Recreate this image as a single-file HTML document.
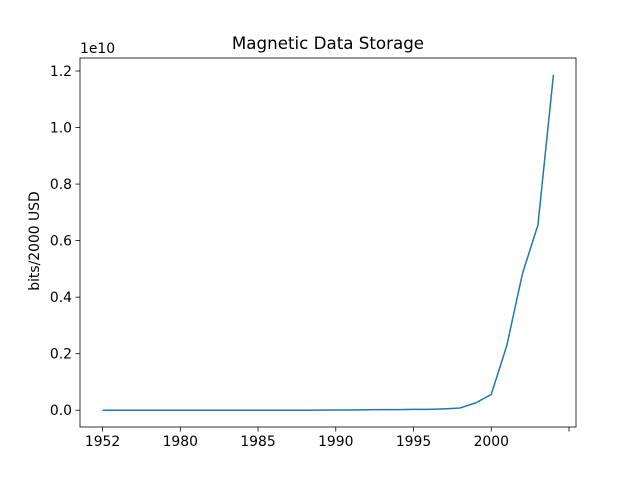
<!DOCTYPE html>
<html><head><meta charset="utf-8"><style>body{margin:0;background:#fff}svg{font-family:"DejaVu Sans","Liberation Sans",sans-serif}</style></head>
<body>
<svg id="c" width="640" height="480"></svg>
<script>
const categories=[0,1,2,3,4,5,6,7,8,9,10,11,12,13,14,15,16,17,18,19,20,21,22,23,24,25,26,27,28,29];
const values=[0,0,0,0,0,0,0,0,0,0,0,0,0,0,0.0005,0.001,0.001,0.0015,0.002,0.002,0.003,0.003,0.005,0.008,0.026,0.056,0.229,0.482,0.655,1.187];
const xTickPos=[0,5,10,15,20,25,30];
const xTickLabels=["1952","1980","1985","1990","1995","2000",""];
const yTicks=[0,0.2,0.4,0.6,0.8,1.0,1.2];
const yTickLabels=["0.0","0.2","0.4","0.6","0.8","1.0","1.2"];
const L=80,R=576,T=58,B=427;
const x0=-1.45,x1=30.45,y0=-0.0593,y1=1.246;
const X=v=>L+(v-x0)/(x1-x0)*(R-L);
const Y=v=>B-(v-y0)/(y1-y0)*(B-T);
const s=document.getElementById('c');const NS="http://www.w3.org/2000/svg";
function mk(t,a,txt){const e=document.createElementNS(NS,t);for(const k in a)e.setAttribute(k,a[k]);if(txt!=null)e.textContent=txt;s.appendChild(e);return e;}
let e=mk('text',{x:328,y:49,'text-anchor':'middle','font-size':16.7},'Magnetic Data Storage');


e=mk('text',{x:80,y:53,'font-size':13.9},'1e10');


e=mk('text',{x:0,y:0,'text-anchor':'middle','font-size':13.9,transform:'translate(39,241) rotate(-90)'},'bits/2000 USD');


xTickPos.forEach((p,i)=>{const px=X(p);
 let t=mk('line',{x1:px,x2:px,y1:B,y2:B+4.5,stroke:'#000','stroke-width':0.8});
 
 
 let l=mk('text',{x:px,y:B+19,'text-anchor':'middle','font-size':13.9},xTickLabels[i]);
 
 
});
yTicks.forEach((v,i)=>{const py=Y(v);
 let t=mk('line',{x1:L-4.5,x2:L,y1:py,y2:py,stroke:'#000','stroke-width':0.8});
 
 
 let l=mk('text',{x:L-8,y:py+5,'text-anchor':'end','font-size':13.9},yTickLabels[i]);
 
 
});
const pts=categories.map((c,i)=>X(c).toFixed(2)+','+Y(values[i]).toFixed(2)).join(' ');
e=mk('polyline',{points:pts,fill:'none',stroke:'#1f77b4','stroke-width':1.5,'stroke-linejoin':'round'});


e=mk('rect',{x:L,y:T,width:R-L,height:B-T,fill:'none',stroke:'#000','stroke-width':0.8});


</script>
</body></html>
